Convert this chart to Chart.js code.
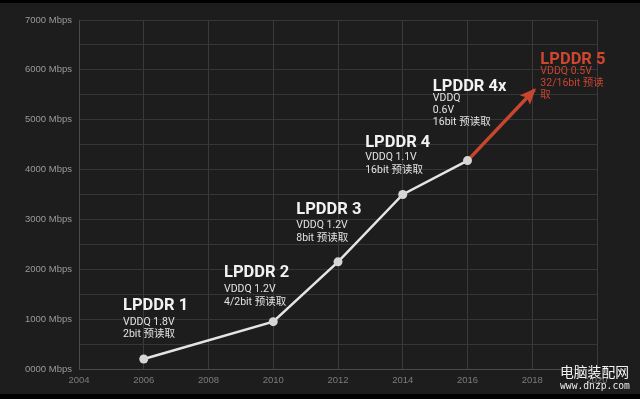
<!DOCTYPE html>
<html><head><meta charset="utf-8">
<script src="https://cdn.jsdelivr.net/npm/chart.js@4/dist/chart.umd.min.js"></script>
<style>html,body{margin:0;padding:0;background:#000;}#wrap{width:640px;height:399px;}</style>
</head><body><div id="wrap"><canvas id="c" width="640" height="399"></canvas></div>
<script>
const years = [2006, 2010, 2012, 2014, 2016];
const speeds = [200, 950, 2150, 3500, 4180];
const nextYears = [2016, 2018.07];
const nextSpeeds = [4180, 5600];
const xTicks = [2004, 2006, 2008, 2010, 2012, 2014, 2016, 2018, 2020];
const yMax = 7000;
const titles = ['LPDDR 1', 'LPDDR 2', 'LPDDR 3', 'LPDDR 4', 'LPDDR 4x', 'LPDDR 5'];
const details = [
  ['VDDQ 1.8V', '2bit 预读取'],
  ['VDDQ 1.2V', '4/2bit 预读取'],
  ['VDDQ 1.2V', '8bit 预读取'],
  ['VDDQ 1.1V', '16bit 预读取'],
  ['VDDQ', '0.6V', '16bit 预读取'],
  ['VDDQ 0.5V', '32/16bit 预读', '取']
];
// label anchor positions (data coordinates) and layout
const labelX = [2005.36, 2008.48, 2010.71, 2012.84, 2014.93, 2018.25];
const labelY = [1180, 1840, 3100, 4460, 5580, 6120];
const firstGap = [15, 15, 14, 13, 10, 10.5];
const lineGap = [12, 13, 13, 13, 12, 12];
const labelColor = ['#f2f2f2','#f2f2f2','#f2f2f2','#f2f2f2','#f2f2f2','#d2452f'];
const subColor = ['#e2e2e2','#e2e2e2','#e2e2e2','#e2e2e2','#e2e2e2','#c94530'];

const RED = '#c7462e';
const BG = '#1d1d1d';

function fitText(ctx, text, x, y, width, family, startSize) {
  let size = startSize;
  ctx.font = size + 'px ' + family;
  const w = ctx.measureText(text).width;
  size = size * width / w;
  ctx.font = size + 'px ' + family;
  ctx.fillText(text, x, y);
}

const deco = {
  id: 'deco',
  beforeDraw(chart) {
    const ctx = chart.ctx;
    ctx.save();
    ctx.fillStyle = '#000';
    ctx.fillRect(0, 0, 640, 399);
    ctx.fillStyle = BG;
    ctx.fillRect(0, 3, 640, 391);
    ctx.restore();
  },
  afterDraw(chart) {
    const ctx = chart.ctx;
    const xs = chart.scales.x, ys = chart.scales.y;
    // arrowhead
    const x0 = xs.getPixelForValue(nextYears[0]), y0 = ys.getPixelForValue(nextSpeeds[0]);
    const x1 = xs.getPixelForValue(nextYears[1]), y1 = ys.getPixelForValue(nextSpeeds[1]);
    const ang = Math.atan2(y1 - y0, x1 - x0);
    const L = 14, W = 7;
    ctx.save();
    ctx.fillStyle = RED;
    ctx.beginPath();
    ctx.moveTo(x1 + 2*Math.cos(ang), y1 + 2*Math.sin(ang));
    ctx.lineTo(x1 - L*Math.cos(ang) + W*Math.sin(ang), y1 - L*Math.sin(ang) - W*Math.cos(ang));
    ctx.lineTo(x1 - (L-3)*Math.cos(ang), y1 - (L-3)*Math.sin(ang));
    ctx.lineTo(x1 - L*Math.cos(ang) - W*Math.sin(ang), y1 - L*Math.sin(ang) + W*Math.cos(ang));
    ctx.closePath();
    ctx.fill();
    ctx.restore();
    // labels
    ctx.save();
    ctx.textAlign = 'left';
    ctx.textBaseline = 'alphabetic';
    for (let i = 0; i < titles.length; i++) {
      const px = xs.getPixelForValue(labelX[i]);
      const py = ys.getPixelForValue(labelY[i]);
      ctx.fillStyle = labelColor[i];
      ctx.font = 'bold 16.5px Roboto, "Noto Sans", sans-serif';
      ctx.fillText(titles[i], px, py);
      ctx.fillStyle = subColor[i];
      ctx.font = '10.5px Roboto, "Noto Sans CJK SC", sans-serif';
      let yy = py + firstGap[i];
      for (const line of details[i]) {
        ctx.fillText(line, px, yy);
        yy += lineGap[i];
      }
    }
    // watermark
    ctx.fillStyle = '#f4f4f4';
    fitText(ctx, '电脑装配网', 560, 377, 69, '"Noto Sans CJK SC", sans-serif', 14);
    ctx.fillStyle = '#e8e8e8';
    fitText(ctx, 'www.dnzp.com', 560, 389, 70, '"DejaVu Sans Mono", "Liberation Mono", monospace', 10);
    ctx.restore();
  }
};

new Chart(document.getElementById('c'), {
  type: 'line',
  data: {
    datasets: [
      {
        data: years.map((y, i) => ({x: y, y: speeds[i]})),
        borderColor: '#e4e4e4',
        borderWidth: 2.5,
        pointRadius: 4.5,
        pointBackgroundColor: '#d6d6d6',
        pointBorderColor: '#d6d6d6',
        pointBorderWidth: 0,
        tension: 0,
        order: 1
      },
      {
        data: nextYears.map((y, i) => ({x: y, y: nextSpeeds[i]})),
        borderColor: RED,
        borderWidth: 3.5,
        pointRadius: 0,
        tension: 0,
        order: 2
      }
    ]
  },
  options: {
    responsive: false,
    animation: false,
    events: [],
    layout: {padding: {left: 0, top: 20, right: 43, bottom: 0}},
    plugins: {legend: {display: false}, tooltip: {enabled: false}},
    scales: {
      x: {
        type: 'linear',
        min: xTicks[0], max: xTicks[xTicks.length - 1],
        afterBuildTicks: s => { s.ticks = xTicks.map(v => ({value: v})); },
        afterFit: s => { s.height = 30; },
        grid: {color: '#3a3a3a', drawTicks: false, lineWidth: 1},
        border: {color: '#4a4a4a'},
        ticks: {color: '#7c7c7c', padding: 6, font: {size: 9.5, family: '"Liberation Sans", Arial, sans-serif'}, callback: v => String(v), maxRotation: 0}
      },
      y: {
        min: 0, max: yMax,
        ticks: {stepSize: 500, color: '#9a9a9a', padding: 7, font: {size: 9.5, family: '"Liberation Sans", Arial, sans-serif'},
          callback: v => (v % 1000 === 0 ? String(v).padStart(4, '0') + ' Mbps' : '')},
        afterFit: s => { s.width = 79; },
        grid: {color: '#363636', drawTicks: false, lineWidth: 1},
        border: {color: '#4a4a4a'}
      }
    }
  },
  plugins: [deco]
});
</script>
</body></html>
